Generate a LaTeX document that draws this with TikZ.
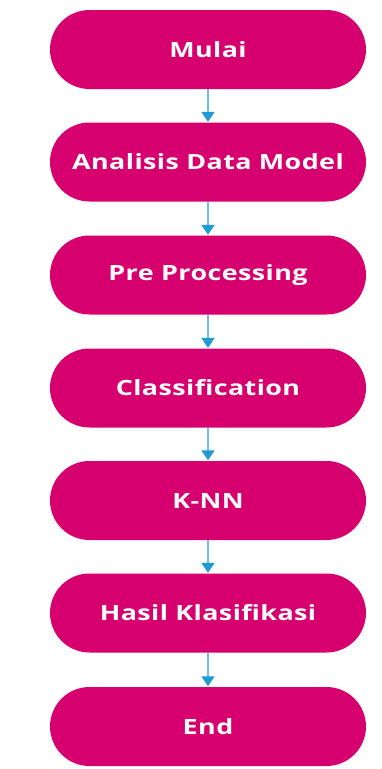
\documentclass[tikz,border=0pt]{standalone}
\usepackage{fontspec}
\setmainfont{Open Sans}
\newfontfamily\boxfont{Open Sans}[FakeStretch=1.28,LetterSpace=2]
\usetikzlibrary{arrows.meta}
\definecolor{boxmag}{HTML}{D6006E}
\definecolor{arrline}{HTML}{6BBFE8}
\definecolor{arrhead}{HTML}{1E9AD6}
\tikzset{
  term/.style={fill=boxmag, draw=none, rounded corners=39.5pt, minimum width=316pt, minimum height=79pt,
    text=white, font=\boxfont\fontsize{21}{24}\selectfont\bfseries, inner sep=0pt},
  flow/.style={draw=arrline, line width=1.8pt, -{Triangle[length=10pt,width=13pt,color=arrhead]}, shorten >=0.5pt}
}
\begin{document}
\begin{tikzpicture}[x=1pt,y=1pt]
\useasboundingbox (0,0) rectangle (381,-769);
\node[term] (n1) at (208,-49.5) {Mulai};
\node[term] (n2) at (208,-162) {Analisis Data Model};
\node[term] (n3) at (208,-275) {Pre Processing};
\node[term] (n4) at (208,-388) {Classification};
\node[term] (n5) at (208,-500.5) {K-NN};
\node[term] (n6) at (208,-613) {Hasil Klasifikasi};
\node[term] (n7) at (208,-726.5) {End};
\foreach \a/\b in {n1/n2,n2/n3,n3/n4,n4/n5,n5/n6,n6/n7}
  \draw[flow] (\a) -- (\b);
\end{tikzpicture}
\end{document}
